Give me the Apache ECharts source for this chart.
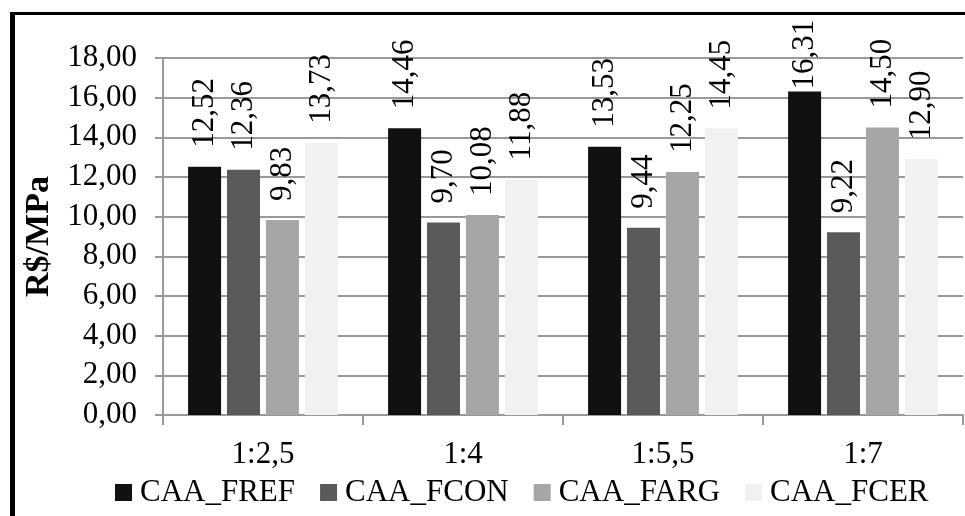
<!DOCTYPE html>
<html>
<head>
<meta charset="utf-8">
<script src="https://cdn.jsdelivr.net/npm/echarts@6/dist/echarts.min.js"></script>
<style>
html,body{margin:0;padding:0;background:#fff;}
#chart{width:965px;height:516px;}
</style>
</head>
<body>
<div id="chart"></div>
<script>
const categories = ['1:2,5', '1:4', '1:5,5', '1:7'];
const seriesNames = ['CAA_FREF', 'CAA_FCON', 'CAA_FARG', 'CAA_FCER'];
const FREF = [12.52, 14.46, 13.53, 16.31];
const FCON = [12.36, 9.70, 9.44, 9.22];
const FARG = [9.83, 10.08, 12.25, 14.50];
const FCER = [13.73, 11.88, 14.45, 12.90];
const yTicks = [0, 2, 4, 6, 8, 10, 12, 14, 16, 18];
const colors = ['#111111', '#5a5a5a', '#a6a6a6', '#f1f1f1'];

const FONT = '"Liberation Serif", "Times New Roman", serif';
const FS = 31;
const LABEL_DIST = 19;
const LABEL_TOP_LIMIT = 22;
const fmt = v => v.toFixed(2).replace('.', ',');

const chart = echarts.init(document.getElementById('chart'), null, {renderer: 'canvas'});
const values = [FREF, FCON, FARG, FCER];

function makeSeries(dataFn) {
  return values.map((vals, i) => ({
    name: seriesNames[i],
    type: 'bar',
    data: dataFn(vals, i),
    barWidth: 33,
    barGap: '18%',
    itemStyle: {color: colors[i]},
    label: {
      show: true,
      position: 'top',
      rotate: 90,
      align: 'left',
      verticalAlign: 'middle',
      distance: LABEL_DIST,
      fontFamily: FONT,
      fontSize: FS,
      color: '#000',
      formatter: p => fmt(p.value)
    }
  }));
}

chart.setOption({
  animation: false,
  backgroundColor: '#fff',
  color: colors,
  graphic: [
    {type: 'line', shape: {x1: 12.5, y1: 13.5, x2: 965, y2: 13.5}, style: {stroke: '#000', lineWidth: 3}},
    {type: 'line', shape: {x1: 12.5, y1: 12, x2: 12.5, y2: 516}, style: {stroke: '#000', lineWidth: 5}}
  ],
  grid: {left: 163, right: 2, top: 58, bottom: 101, containLabel: false},
  legend: {
    data: seriesNames,
    left: 110,
    top: 472,
    itemWidth: 17,
    itemHeight: 17,
    itemGap: 25,
    icon: 'rect',
    textStyle: {fontFamily: FONT, fontSize: FS, color: '#000', padding: [0, 0, 0, 3]}
  },
  xAxis: {
    type: 'category',
    data: categories,
    axisLine: {lineStyle: {color: '#999', width: 2}},
    axisTick: {show: true, length: 10, lineStyle: {color: '#999', width: 2}},
    axisLabel: {fontFamily: FONT, fontSize: FS, color: '#000', margin: 24},
    splitLine: {show: false}
  },
  yAxis: {
    type: 'value',
    min: yTicks[0],
    max: yTicks[yTicks.length - 1],
    interval: 2,
    name: 'R$/MPa',
    nameLocation: 'middle',
    nameGap: 105,
    nameTextStyle: {fontFamily: FONT, fontSize: 34, fontWeight: 'bold', color: '#000'},
    axisLine: {show: true, lineStyle: {color: '#999', width: 2}},
    axisTick: {show: true, length: 8, lineStyle: {color: '#999', width: 2}},
    axisLabel: {fontFamily: FONT, fontSize: FS, color: '#000', margin: 26, formatter: v => fmt(v)},
    splitLine: {show: true, lineStyle: {color: '#999', width: 2}}
  },
  series: makeSeries(vals => vals)
});

// Keep labels inside the chart area (as the original does for the tallest bar)
const ctx = document.createElement('canvas').getContext('2d');
ctx.font = FS + 'px ' + FONT;
chart.setOption({
  series: makeSeries(vals => vals.map(v => {
    const py = chart.convertToPixel({yAxisIndex: 0}, v);
    const len = ctx.measureText(fmt(v)).width;
    const top = py - LABEL_DIST - len;
    if (top < LABEL_TOP_LIMIT) {
      return {value: v, label: {distance: Math.max(2, py - LABEL_TOP_LIMIT - len)}};
    }
    return v;
  }))
});
</script>
</body>
</html>
